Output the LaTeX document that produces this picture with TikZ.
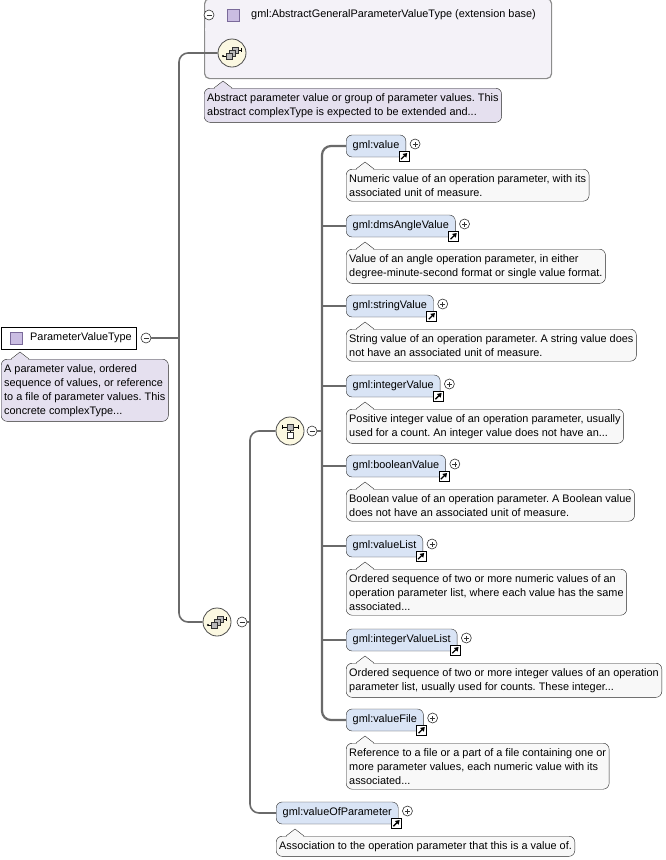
\documentclass[tikz,border=0pt]{standalone}
\usepackage{fontspec}
\setmainfont{Liberation Sans}
\usetikzlibrary{arrows.meta, positioning, calc}
\definecolor{xsline}{HTML}{6A6A6A}
\definecolor{xselem}{HTML}{D9E4F5}
\definecolor{xsnote}{HTML}{F8F8F8}
\definecolor{xstypenote}{HTML}{E5E0EF}
\definecolor{xsext}{HTML}{F4F2F8}
\definecolor{xscomp}{HTML}{FBF8E1}
\definecolor{xsicon}{HTML}{CABDE2}
\definecolor{xsiconline}{HTML}{7A6A9A}
\frenchspacing

\begin{document}
\begin{tikzpicture}[x=1pt, y=-1pt,
    every node/.style={font=\fontsize{10.9}{14}\selectfont, inner sep=0pt},
    conn/.style={draw=xsline, line width=1.6pt, rounded corners=9pt},
    elem/.style={draw=black!80, fill=xselem, rounded corners=6pt, minimum height=22pt,
                 inner xsep=6.5pt, anchor=west},
    note/.style={draw=black!85, fill=xsnote, rounded corners=6pt, align=left,
                 inner xsep=3pt, inner ysep=5pt, anchor=north west},
    typenote/.style={note, fill=xstypenote},
    comp/.style={circle, draw=black!70, fill=xscomp, minimum size=28pt, line width=0.8pt},
    typeicon/.style={draw=xsiconline, fill=xsicon, minimum size=12pt},
    minusmark/.style={circle, draw=black!80, fill=white, minimum size=10pt, line width=0.6pt,
      path picture={\draw ([xshift=-2.5pt]path picture bounding box.center)
                      -- ([xshift=2.5pt]path picture bounding box.center);}},
    plusmark/.style={circle, draw=black!80, fill=white, minimum size=10pt, line width=0.6pt,
      path picture={\draw ([xshift=-2.5pt]path picture bounding box.center)
                      -- ([xshift=2.5pt]path picture bounding box.center);
                    \draw ([yshift=-2.5pt]path picture bounding box.center)
                      -- ([yshift=2.5pt]path picture bounding box.center);}},
    refmark/.style={draw=black, fill=white, minimum size=10pt, line width=0.6pt,
      path picture={\draw[line width=1.3pt, -{Triangle[length=4pt,width=5pt]}]
                      ([shift={(-3pt,-3pt)}]path picture bounding box.center)
                      -- ([shift={(3.2pt,3.2pt)}]path picture bounding box.center);}},
    seqicon/.pic={
      \draw[line width=0.6pt] (-9,3) -- (-5,3);
      \fill (-9,3) circle (1.2);
      \draw[line width=0.6pt] (5,-3) -- (9,-3) (9,-5) -- (9,-1);
      \foreach \d in {3,0,-3}
        \filldraw[fill=gray!55, draw=black!80, line width=0.5pt] (\d-3,-\d-3) rectangle (\d+3,-\d+3);
    },
    choiceicon/.pic={
      \draw[line width=0.6pt] (-8,-4) -- (8,-4) (-8,-6) -- (-8,-2) (8,-6) -- (8,-2) (0,-1) -- (0,1);
      \filldraw[fill=gray!55, draw=black!80, line width=0.5pt] (-3,-7) rectangle (3,-1);
      \filldraw[fill=white, draw=black!80, line width=0.5pt] (-3,1) rectangle (3,7);
    }
  ]
    \useasboundingbox (0,0) rectangle (665,860);

    % extension base
    \node[draw=black!45, fill=xsext, line width=1.2pt, rounded corners=5pt, minimum width=347pt,
          minimum height=80pt, anchor=north west] (ext) at (204,-2) {};
    \node[minusmark] (extm) at (209,15) {};
    \node[typeicon] (exticon) at (233,15) {};
    \node[anchor=west] (exttitle) at (251,15) {gml:AbstractGeneralParameterValueType (extension base)};
    \shade[left color=xsext, middle color=black!55, right color=xsext] (205,28.5) rectangle (467,30.5);
    \node[comp] (abseq) at (232,53) {};
    \pic at (abseq) {seqicon};
    \node[typenote] (n0) at (204,88) {Abstract parameter value or group of parameter values. This\\abstract complexType is expected to be extended and...};

    % the type itself
    \node[draw=black, fill=white, minimum height=22pt, inner xsep=4pt, anchor=west] (pvt) at (1,338) {\hspace{25pt}ParameterValueType};
    \node[typeicon] (pvticon) at (16,338) {};
    \node[minusmark] (pvtm) at (146,338) {};
    \node[typenote] (npvt) at (1,359) {A parameter value, ordered\\sequence of values, or reference\\to a file of parameter values. This\\concrete complexType...};

    % compositors
    \node[comp] (seq) at (217,622) {};
    \pic at (seq) {seqicon};
    \node[minusmark] (seqm) at (242,622) {};
    \node[comp] (ch) at (290,431) {};
    \pic at (ch) {choiceicon};
    \node[minusmark] (chm) at (312,431) {};

    % choice members
    \node[elem] (e1) at (346,146) {gml:value};
    \node[note] (n1) at (346,169) {Numeric value of an operation parameter, with its\\associated unit of measure.};
    \node[elem] (e2) at (346,226) {gml:dmsAngleValue};
    \node[note] (n2) at (346,249) {Value of an angle operation parameter, in either\\degree-minute-second format or single value format.};
    \node[elem] (e3) at (346,306) {gml:stringValue};
    \node[note] (n3) at (346,329) {String value of an operation parameter. A string value does\\not have an associated unit of measure.};
    \node[elem] (e4) at (346,386) {gml:integerValue};
    \node[note] (n4) at (346,409) {Positive integer value of an operation parameter, usually\\used for a count. An integer value does not have an...};
    \node[elem] (e5) at (346,466) {gml:booleanValue};
    \node[note] (n5) at (346,489) {Boolean value of an operation parameter. A Boolean value\\does not have an associated unit of measure.};
    \node[elem] (e6) at (346,546) {gml:valueList};
    \node[note] (n6) at (346,569) {Ordered sequence of two or more numeric values of an\\operation parameter list, where each value has the same\\associated...};
    \node[elem] (e7) at (346,640) {gml:integerValueList};
    \node[note] (n7) at (346,663) {Ordered sequence of two or more integer values of an operation\\parameter list, usually used for counts. These integer...};
    \node[elem] (e8) at (346,720) {gml:valueFile};
    \node[note] (n8) at (346,743) {Reference to a file or a part of a file containing one or\\more parameter values, each numeric value with its\\associated...};

    \node[elem] (e9) at (276,813) {gml:valueOfParameter};
    \node[note] (n9) at (276,836) {Association to the operation parameter that this is a value of.};

    \foreach \i in {1,...,9} {
      \node[refmark] (r\i) at ([xshift=-2pt, yshift=1pt]e\i.south east) {};
      \node[plusmark] (p\i) at ([xshift=9pt, yshift=2pt]e\i.east) {};
    }

    % pointers of the notes
    \foreach \n/\col in {n0/xstypenote, npvt/xstypenote, n1/xsnote, n2/xsnote, n3/xsnote,
                         n4/xsnote, n5/xsnote, n6/xsnote, n7/xsnote, n8/xsnote, n9/xsnote} {
      \fill[\col] ([xshift=10.5pt, yshift=-0.8pt]\n.north west) -- ([xshift=19pt, yshift=7pt]\n.north west)
        -- ([xshift=27.5pt, yshift=-0.8pt]\n.north west) -- cycle;
      \draw[black!85] ([xshift=10pt]\n.north west) -- ([xshift=19pt, yshift=7pt]\n.north west)
        -- ([xshift=28pt]\n.north west);
    }

    % connectors
    \coordinate (t1) at (179,0);
    \coordinate (t2) at (250,0);
    \coordinate (t3) at (322,0);
    \draw[conn] (pvtm.east) -- (t1 |- pvtm.east);
    \draw[conn] (abseq.west) -| (t1 |- seq.west) -- (seq.west);
    \draw[conn] (seqm.east) -- (t2 |- seqm.east);
    \draw[conn] (ch.west) -| (t2 |- e9.west) -- (e9.west);
    \draw[conn] (chm.east) -- (t3 |- chm.east);
    \draw[conn, line width=2.2pt] (e1.west) -| (t3 |- e8.west) -- (e8.west);
    \foreach \i in {2,...,7}
      \draw[conn] (t3 |- e\i.west) -- (e\i.west);
\end{tikzpicture}
\end{document}
